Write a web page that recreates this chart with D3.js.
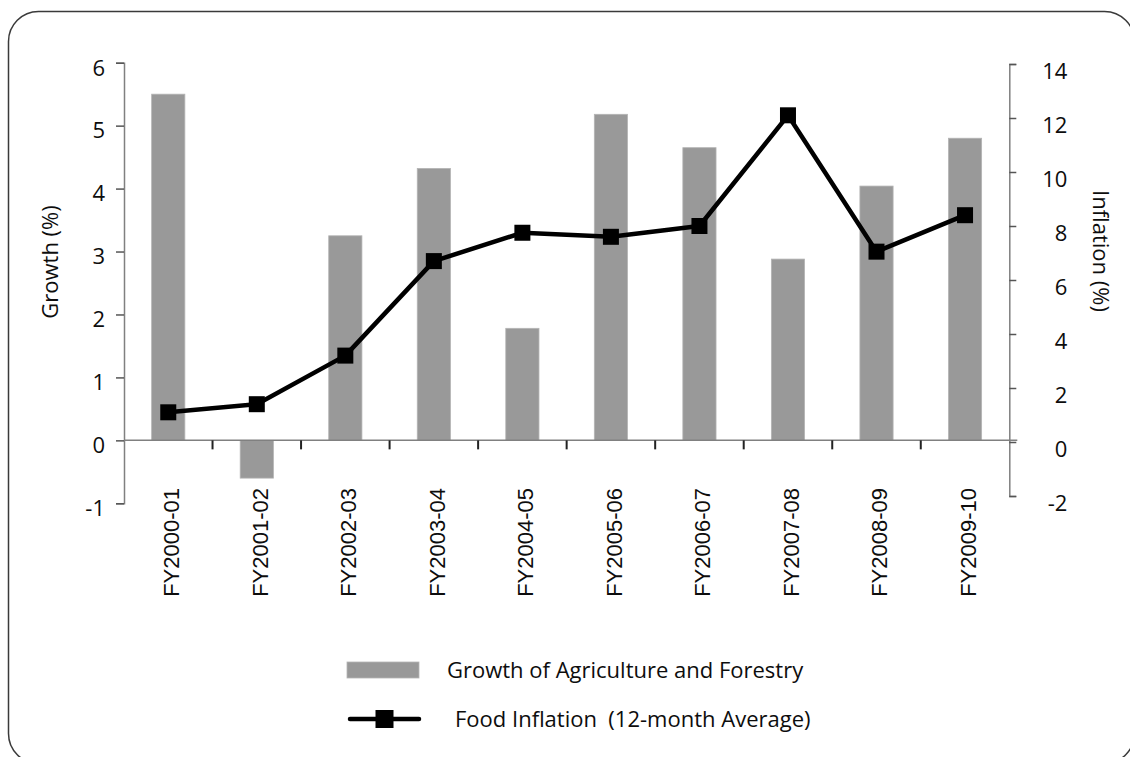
<!DOCTYPE html>
<html>
<head>
<meta charset="utf-8">
<script src="https://cdn.jsdelivr.net/npm/d3@7"></script>
<style>
  html, body { margin: 0; padding: 0; background: #fff; }
  svg { display: block; }
  .sans { font-family: "Open Sans", "Noto Sans", sans-serif; fill: #0d0d0d; }
  .arial { font-family: "Liberation Sans", Arial, sans-serif; fill: #0d0d0d; }
</style>
</head>
<body>
<svg id="chart" width="1130" height="757"></svg>
<script>
// Fiscal years on the category axis
const categories = ["FY2000-01", "FY2001-02", "FY2002-03", "FY2003-04", "FY2004-05",
                    "FY2005-06", "FY2006-07", "FY2007-08", "FY2008-09", "FY2009-10"];
// Growth of agriculture and forestry (%), left axis
const growth = [5.5, -0.6, 3.25, 4.32, 1.78, 5.18, 4.65, 2.88, 4.04, 4.8];
// Food inflation, 12-month average (%), right axis
const inflation = [1.1, 1.4, 3.2, 6.7, 7.75, 7.6, 8.0, 12.1, 7.05, 8.4];
// Axis ticks
const growthTicks = [-1, 0, 1, 2, 3, 4, 5, 6];
const inflationTicks = [-2, 0, 2, 4, 6, 8, 10, 12, 14];
const legendLabels = ["Growth of Agriculture and Forestry", "Food Inflation  (12-month Average)"];

const svg = d3.select("#chart");

// rounded outer frame
svg.append("rect")
  .attr("x", 8.5).attr("y", 11.5)
  .attr("width", 1126).attr("height", 752)
  .attr("rx", 30).attr("ry", 30)
  .attr("fill", "none").attr("stroke", "#3a3a3a").attr("stroke-width", 1.5);

const left = 124, right = 1009.3;

const x = d3.scaleBand().domain(categories).range([left, right])
  .paddingInner(0.625).paddingOuter(0.3125);
const yL = d3.scaleLinear().domain([-1, 6]).range([503.3, 62.7]);
const yR = d3.scaleLinear().domain([-2, 14]).range([496, 64]);

const axisColor = "#808080";
const plainNum = d => String(d); // hyphen-minus for negatives

// bars
svg.append("g").selectAll("rect").data(growth).join("rect")
  .attr("x", (d, i) => x(categories[i]))
  .attr("width", x.bandwidth())
  .attr("y", d => d >= 0 ? yL(d) : yL(0))
  .attr("height", d => Math.abs(yL(d) - yL(0)))
  .attr("fill", "#999999")
  .attr("stroke", "#b4b4b4").attr("stroke-width", 0.8);

// left axis
const gL = svg.append("g").attr("transform", `translate(${left},0)`)
  .call(d3.axisLeft(yL).tickValues(growthTicks).tickSize(8).tickSizeOuter(8).tickPadding(11)
    .tickFormat(plainNum));
gL.select(".domain").attr("stroke", axisColor).attr("stroke-width", 1.5);
gL.selectAll(".tick line").attr("stroke", "#555").attr("stroke-width", 1.5);
gL.selectAll(".tick text").attr("class", "sans").attr("font-size", 22).attr("dy", "0.56em");

// right axis
const gR = svg.append("g").attr("transform", `translate(${right},0)`)
  .call(d3.axisRight(yR).tickValues(inflationTicks).tickSize(7).tickSizeOuter(7).tickPadding(0)
    .tickFormat(plainNum));
gR.select(".domain").attr("stroke", axisColor).attr("stroke-width", 1.5);
gR.selectAll(".tick line").attr("stroke", "#555").attr("stroke-width", 1.5);
gR.selectAll(".tick text").attr("class", "sans").attr("font-size", 22)
  .attr("text-anchor", "end").attr("x", 58).attr("dy", "0.64em");

// category axis along zero growth
const y0 = yL(0);
svg.append("line").attr("x1", left).attr("x2", right + 8).attr("y1", y0).attr("y2", y0)
  .attr("stroke", axisColor).attr("stroke-width", 1.5);
const step = x.step();
const bounds = categories.slice(1).map(c => x(c) - step * x.paddingInner() / 2);
svg.append("g").selectAll("line").data(bounds).join("line")
  .attr("x1", d => d).attr("x2", d => d).attr("y1", y0).attr("y2", y0 + 9)
  .attr("stroke", "#222").attr("stroke-width", 2);

// category labels, rotated
svg.append("g").selectAll("text").data(categories).join("text")
  .attr("class", "arial").attr("font-size", 22)
  .attr("text-anchor", "end")
  .attr("transform", d => `translate(${x(d) + x.bandwidth() / 2 + 3},488) rotate(-90)`)
  .attr("dy", "0.36em")
  .text(d => d);

// inflation line
const line = d3.line()
  .x((d, i) => x(categories[i]) + x.bandwidth() / 2)
  .y(d => yR(d));
svg.append("path").datum(inflation).attr("d", line)
  .attr("fill", "none").attr("stroke", "#000").attr("stroke-width", 4.5)
  .attr("stroke-linejoin", "round");
const ms = 16;
svg.append("g").selectAll("rect").data(inflation).join("rect")
  .attr("x", (d, i) => x(categories[i]) + x.bandwidth() / 2 - ms / 2)
  .attr("y", d => yR(d) - ms / 2)
  .attr("width", ms).attr("height", ms).attr("fill", "#000");

// axis titles
svg.append("text").attr("class", "sans").attr("font-size", 22)
  .attr("text-anchor", "middle")
  .attr("transform", "translate(50,262) rotate(-90)").attr("dy", "0.35em")
  .text("Growth (%)");
svg.append("text").attr("class", "sans").attr("font-size", 22)
  .attr("text-anchor", "middle")
  .attr("transform", "translate(1101,251) rotate(90)").attr("dy", "0.35em")
  .text("Inflation (%)");

// legend
const lg = svg.append("g");
lg.append("rect").attr("x", 347).attr("y", 662).attr("width", 72).attr("height", 16)
  .attr("fill", "#999999").attr("stroke", "#b4b4b4").attr("stroke-width", 0.8);
lg.append("text").attr("class", "sans").attr("font-size", 22)
  .attr("x", 447).attr("y", 670).attr("dy", "0.35em").attr("xml:space", "preserve")
  .text(legendLabels[0]);
lg.append("line").attr("x1", 350).attr("x2", 419).attr("y1", 719).attr("y2", 719)
  .attr("stroke", "#000").attr("stroke-width", 4.5).attr("stroke-linecap", "round");
lg.append("rect").attr("x", 384.5 - 9).attr("y", 719 - 9).attr("width", 18).attr("height", 18)
  .attr("fill", "#000");
lg.append("text").attr("class", "sans").attr("font-size", 22)
  .attr("x", 455).attr("y", 719).attr("dy", "0.35em").attr("xml:space", "preserve")
  .text(legendLabels[1]);
</script>
</body>
</html>
